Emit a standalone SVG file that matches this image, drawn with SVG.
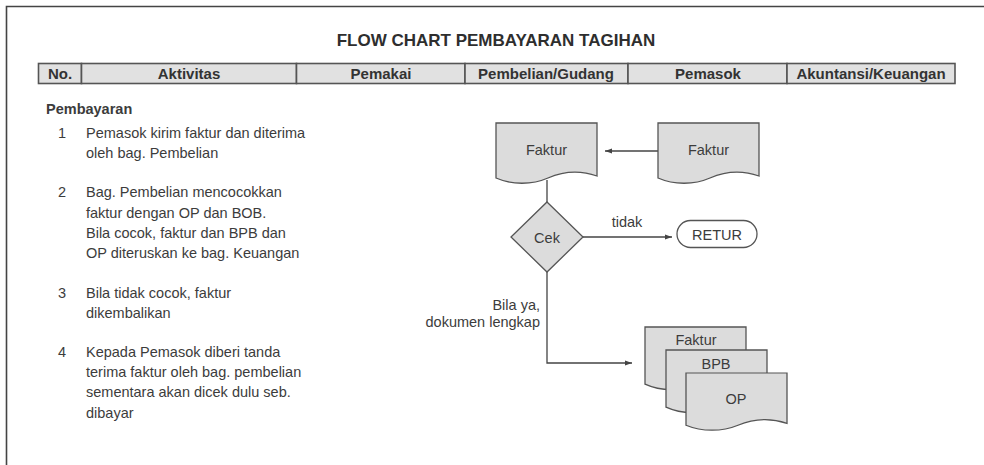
<svg xmlns="http://www.w3.org/2000/svg" width="984" height="465" viewBox="0 0 984 465">
  <defs>
    <style>
      text { font-family: "Liberation Sans", Arial, sans-serif; fill: #3c3c3c; }
      .title { font-size: 17px; font-weight: bold; text-anchor: middle; fill: #2e2e2e; }
      .hdr { font-size: 15px; font-weight: bold; text-anchor: middle; fill: #333; }
      .hdr-cell { fill: #e1e1e1; stroke: #555; stroke-width: 1.6; }
      .body { font-size: 14.5px; }
      .num { font-size: 14.5px; text-anchor: middle; }
      .lbl { font-size: 14.5px; text-anchor: middle; dominant-baseline: central; }
      .shape { fill: #dcdcdc; stroke: #555; stroke-width: 1.3; }
      .term { fill: #fff; stroke: #555; stroke-width: 1.3; }
      .conn { fill: none; stroke: #444; stroke-width: 1.3; }
    </style>
    <!-- document symbol: 101 wide, wavy bottom edge -->
    <path id="doc" d="M0,0 H101 V53 C84,47 68,48 52,55 C36,62 16,62 0,55 Z"/>
    <marker id="arrow" viewBox="0 0 10 10" refX="10" refY="5" markerWidth="7" markerHeight="7" markerUnits="userSpaceOnUse" orient="auto">
      <path d="M0,1.5 L10,5 L0,8.5 Z" fill="#444"/>
    </marker>
  </defs>

  <rect width="984" height="465" fill="#fff"/>

  <!-- outer frame (top and left edges) -->
  <path d="M6.5,465 V6.5 H984" fill="none" stroke="#444" stroke-width="1.6"/>

  <text class="title" x="496" y="46">FLOW CHART PEMBAYARAN TAGIHAN</text>

  <!-- column header row -->
  <g id="header">
    <rect class="hdr-cell" x="38.5" y="63.5" width="43" height="20"/>
    <rect class="hdr-cell" x="81.5" y="63.5" width="215" height="20"/>
    <rect class="hdr-cell" x="296.5" y="63.5" width="168.5" height="20"/>
    <rect class="hdr-cell" x="465" y="63.5" width="163" height="20"/>
    <rect class="hdr-cell" x="628" y="63.5" width="159" height="20"/>
    <rect class="hdr-cell" x="787" y="63.5" width="168" height="20"/>
    <text class="hdr" x="60" y="79">No.</text>
    <text class="hdr" x="189" y="79">Aktivitas</text>
    <text class="hdr" x="381" y="79">Pemakai</text>
    <text class="hdr" x="546" y="79">Pembelian/Gudang</text>
    <text class="hdr" x="708" y="79">Pemasok</text>
    <text class="hdr" x="871" y="79">Akuntansi/Keuangan</text>
  </g>

  <!-- activity descriptions -->
  <g id="activities">
    <text class="body" x="46" y="114" font-weight="bold" font-size="15">Pembayaran</text>
    <text class="num" x="62" y="138">1</text>
    <text class="body" x="86" y="138">Pemasok kirim faktur dan diterima</text>
    <text class="body" x="86" y="158">oleh bag. Pembelian</text>

    <text class="num" x="62" y="197">2</text>
    <text class="body" x="86" y="197">Bag. Pembelian mencocokkan</text>
    <text class="body" x="86" y="217.5">faktur dengan OP dan BOB.</text>
    <text class="body" x="86" y="238">Bila cocok, faktur dan BPB dan</text>
    <text class="body" x="86" y="258">OP diteruskan ke bag. Keuangan</text>

    <text class="num" x="62" y="298">3</text>
    <text class="body" x="86" y="298">Bila tidak cocok, faktur</text>
    <text class="body" x="86" y="318">dikembalikan</text>

    <text class="num" x="62" y="357">4</text>
    <text class="body" x="86" y="357">Kepada Pemasok diberi tanda</text>
    <text class="body" x="86" y="377">terima faktur oleh bag. pembelian</text>
    <text class="body" x="86" y="397">sementara akan dicek dulu seb.</text>
    <text class="body" x="86" y="417.5">dibayar</text>
  </g>

  <!-- connectors -->
  <g id="connectors">
    <line class="conn" x1="658" y1="151" x2="605" y2="151" marker-end="url(#arrow)"/>
    <line class="conn" x1="547" y1="180" x2="547" y2="212" marker-end="url(#arrow)"/>
    <line class="conn" x1="583" y1="237" x2="672" y2="237" marker-end="url(#arrow)"/>
    <polyline class="conn" points="547,272 547,363 632,363" marker-end="url(#arrow)"/>
    <text class="body" x="627" y="227" text-anchor="middle">tidak</text>
    <text class="body" x="540" y="310" text-anchor="end">Bila ya,</text>
    <text class="body" x="540" y="327" text-anchor="end">dokumen lengkap</text>
  </g>

  <!-- Faktur received by Pembelian -->
  <g id="faktur-pembelian">
    <use href="#doc" class="shape" transform="translate(496,123)"/>
    <text class="lbl" x="546.5" y="150">Faktur</text>
  </g>

  <!-- Faktur sent by Pemasok -->
  <g id="faktur-pemasok">
    <use href="#doc" class="shape" transform="translate(658,123)"/>
    <text class="lbl" x="708.5" y="150">Faktur</text>
  </g>

  <!-- check decision -->
  <g id="cek">
    <polygon class="shape" points="547,202 583,237 547,272 511,237"/>
    <text class="lbl" x="547" y="238">Cek</text>
  </g>

  <!-- return terminator -->
  <g id="retur">
    <rect class="term" x="677" y="220.5" width="80" height="27" rx="13.5"/>
    <text class="lbl" x="717" y="235">RETUR</text>
  </g>

  <!-- documents forwarded: Faktur, BPB, OP -->
  <g id="doc-faktur">
    <use href="#doc" class="shape" transform="translate(645,327) scale(1,1.04)"/>
    <text class="lbl" x="696" y="340">Faktur</text>
  </g>
  <g id="doc-bpb">
    <use href="#doc" class="shape" transform="translate(666,350) scale(1,1.04)"/>
    <text class="lbl" x="716" y="364">BPB</text>
  </g>
  <g id="doc-op">
    <use href="#doc" class="shape" transform="translate(686,373) scale(1,0.95)"/>
    <text class="lbl" x="736" y="399">OP</text>
  </g>
</svg>
